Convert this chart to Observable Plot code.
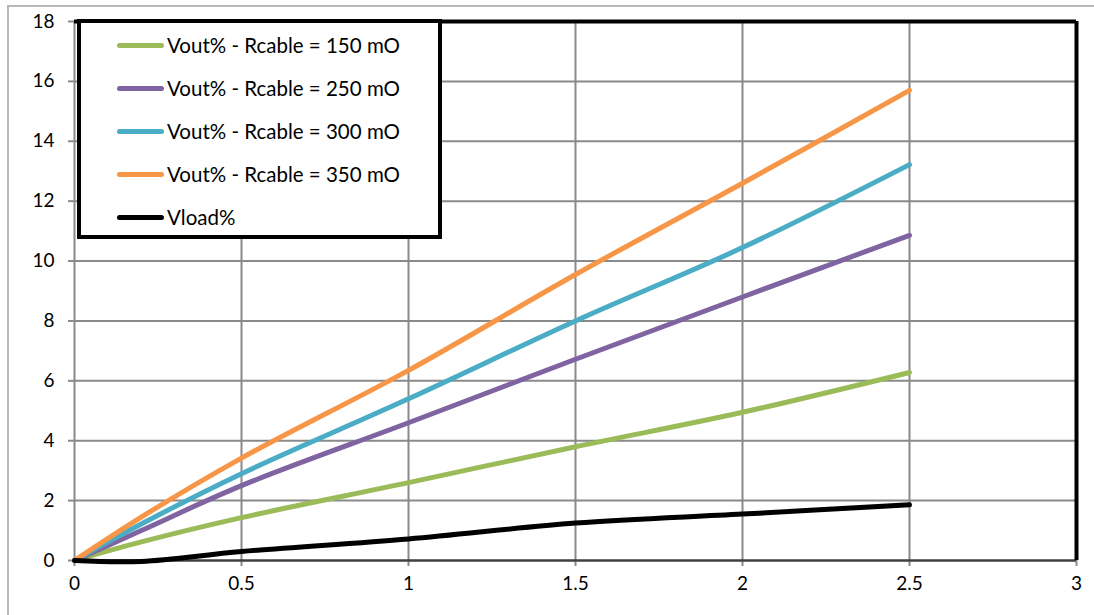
<!DOCTYPE html>
<html>
<head>
<meta charset="utf-8">
<script src="https://cdn.jsdelivr.net/npm/d3@7"></script>
<script src="https://cdn.jsdelivr.net/npm/@observablehq/plot@0.6"></script>
<style>
  html, body { margin: 0; padding: 0; background: #fff; }
  #wrap { position: relative; width: 1094px; height: 615px; overflow: hidden; font-family: Lato, "Liberation Sans", sans-serif; }
  #outer { position: absolute; left: 7px; top: 5px; width: 1200px; height: 700px; border-left: 2px solid #b8b8b8; border-top: 2px solid #b8b8b8; box-sizing: border-box; }
  #chart { position: absolute; left: 0; top: 0; }
  #legend { position: absolute; left: 77px; top: 19px; width: 365px; height: 220px; border: 4px solid #000; box-sizing: border-box; background: #fff; }
  .row { position: absolute; left: 36px; height: 24px; display: flex; align-items: center; font-size: 20.5px; color: #000; white-space: nowrap; }
  .swatch { width: 47px; height: 5px; border-radius: 3px; margin-right: 3px; }
</style>
</head>
<body>
<div id="wrap">
  <div id="outer"></div>
  <div id="chart"></div>
  <div id="legend"></div>
</div>
<script>
// Data
const current = [0, 0.2, 0.5, 1, 1.5, 2, 2.5];
const vout150 = [0, 0.62, 1.43, 2.6, 3.8, 4.95, 6.28];
const vout250 = [0, 1.0, 2.5, 4.6, 6.72, 8.8, 10.86];
const vout300 = [0, 1.22, 2.9, 5.4, 8.0, 10.45, 13.22];
const vout350 = [0, 1.45, 3.42, 6.35, 9.55, 12.6, 15.7];
const vload = [0, -0.03, 0.3, 0.72, 1.25, 1.55, 1.86];

const seriesNames = [
  "Vout% - Rcable = 150 mO",
  "Vout% - Rcable = 250 mO",
  "Vout% - Rcable = 300 mO",
  "Vout% - Rcable = 350 mO",
  "Vload%"
];
const seriesValues = [vout150, vout250, vout300, vout350, vload];
const seriesColors = ["#9BBB59", "#8064A2", "#4BACC6", "#F79646", "#000000"];

const xTicks = [0, 0.5, 1, 1.5, 2, 2.5, 3];
const yTicks = [0, 2, 4, 6, 8, 10, 12, 14, 16, 18];

const rows = [];
seriesValues.forEach((vals, i) => {
  vals.forEach((v, j) => rows.push({series: seriesNames[i], x: current[j], y: v}));
});

const lineMarks = seriesNames.map((name, i) =>
  Plot.line(rows.filter(d => d.series === name), {
    x: "x", y: "y", stroke: seriesColors[i], strokeWidth: 5,
    curve: "catmull-rom", strokeLinecap: "round", strokeLinejoin: "round"
  })
);

const chart = Plot.plot({
  width: 1094,
  height: 615,
  marginLeft: 74,
  marginRight: 18,
  marginTop: 21,
  marginBottom: 55,
  style: { fontFamily: "Lato, 'Liberation Sans', sans-serif", fontSize: "19px", background: "transparent", overflow: "visible" },
  x: { domain: [0, 3], label: null },
  y: { domain: [0, 18], label: null },
  marks: [
    Plot.ruleX(xTicks.slice(1, -1), { stroke: "#8a8a8a", strokeWidth: 2 }),
    Plot.ruleY(yTicks.slice(1, -1), { stroke: "#8a8a8a", strokeWidth: 2 }),
    Plot.axisX({ ticks: xTicks, label: null, tickSize: 6, tickPadding: 10, stroke: "#8a8a8a", strokeWidth: 2, fill: "#000", fontSize: 19, tickFormat: d => String(d) }),
    Plot.axisY({ ticks: yTicks, label: null, tickSize: 6, tickPadding: 14, stroke: "#8a8a8a", strokeWidth: 2, fill: "#000", fontSize: 19, tickFormat: d => String(d) }),
    Plot.ruleX([0], { stroke: "#8a8a8a", strokeWidth: 2 }),
    Plot.ruleY([0], { stroke: "#404040", strokeWidth: 2.5 }),
    Plot.ruleY([18], { stroke: "#000", strokeWidth: 4 }),
    Plot.ruleX([3], { stroke: "#000", strokeWidth: 4 }),
    ...lineMarks
  ]
});
document.getElementById("chart").appendChild(chart);

// Legend
const legend = document.getElementById("legend");
const rowTops = [10, 53, 96, 139, 182];
seriesNames.forEach((name, i) => {
  const r = document.createElement("div");
  r.className = "row";
  r.style.top = rowTops[i] + "px";
  const sw = document.createElement("span");
  sw.className = "swatch";
  sw.style.background = seriesColors[i];
  const t = document.createElement("span");
  t.textContent = name;
  r.appendChild(sw);
  r.appendChild(t);
  legend.appendChild(r);
});
</script>
</body>
</html>
